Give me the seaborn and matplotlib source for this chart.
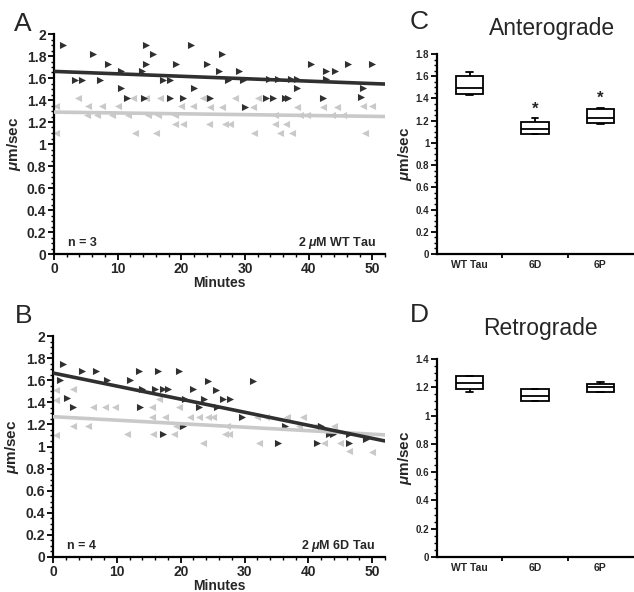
import numpy as np
import pandas as pd
import matplotlib
matplotlib.use("Agg")
import matplotlib.pyplot as plt
import seaborn as sns
from matplotlib.ticker import MultipleLocator, FixedLocator

# ---------------- data ----------------
# Panel A (2 uM WT Tau): anterograde (dark, right triangles)
a_ant_min = [1.4, 6.1, 8.5, 10.5, 3.3, 4.4, 7.2, 10.5, 11.4,
             14.4, 15.6, 14.4, 13.9, 19.1, 17.1, 18.2, 18.2, 20.2, 21.5, 22.0, 14.2,
             26.4, 24.0, 25.9, 29.0, 27.4, 29.7, 33.8, 35.2, 37.2, 38.1, 42.8, 38.1,
             24.5, 33.3, 34.4, 36.3, 36.8, 42.2, 30.0, 40.4, 42.7, 44.1, 46.2, 50.0,
             48.5, 48.3]
a_ant_vel = [1.90, 1.82, 1.73, 1.66, 1.58, 1.58, 1.58, 1.51, 1.42,
             1.90, 1.82, 1.73, 1.66, 1.73, 1.58, 1.58, 1.42, 1.42, 1.90, 1.51, 1.42,
             1.82, 1.73, 1.66, 1.66, 1.58, 1.58, 1.59, 1.59, 1.59, 1.59, 1.59, 1.51,
             1.42, 1.42, 1.42, 1.42, 1.42, 1.42, 1.34, 1.73, 1.66, 1.66, 1.73, 1.73,
             1.51, 1.43]
# Panel A: retrograde (light, left triangles)
a_ret_min = [3.8, 12.4, 14.5, 16.6, 5.4, 7.5, 10.0,
             5.2, 6.7, 9.1, 11.7, 14.8, 16.4, 19.0,
             0.3, 12.7, 16.0, 19.0, 20.3, 20.0, 21.9,
             23.4, 28.4, 32.0, 24.5, 26.4, 31.3, 38.1, 42.2, 44.4,
             24.3, 26.8, 27.6, 34.7, 36.4, 31.4, 35.5, 37.4,
             34.7, 38.6, 39.7, 43.6, 45.4, 48.5, 50.0, 48.8, 0.3]
a_ret_vel = [1.42, 1.42, 1.42, 1.42, 1.35, 1.35, 1.35,
             1.26, 1.26, 1.26, 1.26, 1.26, 1.26, 1.26,
             1.10, 1.10, 1.10, 1.18, 1.18, 1.35, 1.35,
             1.42, 1.42, 1.42, 1.34, 1.34, 1.34, 1.34, 1.34, 1.34,
             1.18, 1.18, 1.18, 1.18, 1.18, 1.10, 1.10, 1.10,
             1.26, 1.26, 1.26, 1.26, 1.26, 1.35, 1.35, 1.10, 1.35]

# Panel B (2 uM 6D Tau)
b_ant_min = [1.6, 4.5, 6.7, 1.1, 8.5, 12.0, 13.4, 16.5, 19.8, 2.2, 3.2,
             14.0, 16.0, 17.3, 18.0, 22.0, 13.7, 20.6, 20.3, 17.2, 22.8,
             24.3, 31.4, 25.6, 23.7, 26.7, 27.8, 35.3, 41.4, 46.3, 43.8, 43.2,
             36.4, 41.9, 46.3, 25.7, 29.6, 49.0]
b_ant_vel = [1.75, 1.68, 1.68, 1.60, 1.60, 1.60, 1.68, 1.68, 1.68, 1.44, 1.36,
             1.52, 1.52, 1.52, 1.52, 1.52, 1.36, 1.43, 1.19, 1.11, 1.36,
             1.59, 1.59, 1.51, 1.43, 1.43, 1.43, 1.03, 1.03, 1.03, 1.11, 1.11,
             1.19, 1.19, 1.11, 1.36, 1.27, 1.07]
b_ret_min = [3.1, 0.5, 0.5, 0.5, 6.2, 8.2, 9.7, 15.5, 19.7, 3.2, 5.5,
             11.6, 15.7, 18.9, 16.6, 15.5, 17.6, 21.5, 19.2, 22.8,
             24.2, 25.0, 32.0, 33.3, 36.7, 39.2, 27.0, 27.6, 23.5, 32.2,
             42.4, 45.0, 38.5, 41.1, 44.0, 27.3, 46.3, 50.0]
b_ret_vel = [1.52, 1.51, 1.42, 1.10, 1.36, 1.36, 1.36, 1.36, 1.36, 1.19, 1.19,
             1.11, 1.11, 1.11, 1.43, 1.27, 1.27, 1.27, 1.19, 1.27,
             1.27, 1.27, 1.27, 1.27, 1.27, 1.27, 1.11, 1.11, 1.03, 1.03,
             1.03, 1.03, 1.19, 1.19, 1.19, 1.19, 0.96, 0.95]

# Linear trend lines (value at 0 and 52 min)
trend_min = [0, 52]
a_ant_trend = [1.66, 1.545]
a_ret_trend = [1.29, 1.25]
b_ant_trend = [1.665, 1.05]
b_ret_trend = [1.27, 1.105]

# Panels C / D: per-condition mean velocities (box plots)
groups = ["WT Tau", "6D", "6P"]
c_wt = [1.43, 1.44, 1.495, 1.606, 1.64]
c_6d = [1.08, 1.08, 1.125, 1.19, 1.225]
c_6p = [1.17, 1.18, 1.225, 1.306, 1.31]
d_wt = [1.17, 1.19, 1.23, 1.277, 1.28]
d_6d = [1.106, 1.106, 1.14, 1.19, 1.19]
d_6p = [1.165, 1.17, 1.20, 1.22, 1.235]
sig_groups = ["6D", "6P"]
sig_y = [1.30, 1.40]

# ---------------- style ----------------
sns.set_theme(style="ticks")
plt.rcParams['font.family'] = ['Liberation Sans', 'DejaVu Sans']
plt.rcParams['mathtext.fontset'] = 'custom'
plt.rcParams['mathtext.it'] = 'Liberation Sans:italic:bold'
plt.rcParams['mathtext.rm'] = 'Liberation Sans:bold'
plt.rcParams['mathtext.bf'] = 'Liberation Sans:bold'

DARK = '#303030'
LIGHT = '#c9c9c9'
SPW = 1.6

fig = plt.figure(figsize=(6.34, 5.92), dpi=100)
W, H = 634, 592
axA = fig.add_axes([54 / W, 1 - 254 / H, (385 - 54) / W, (254 - 34) / H])
axB = fig.add_axes([53 / W, 1 - 557 / H, (385 - 53) / W, (557 - 336) / H])
axC = fig.add_axes([437 / W, 1 - 254 / H, (633 - 437) / W, (254 - 54) / H])
axD = fig.add_axes([437 / W, 1 - 557 / H, (633 - 437) / W, (557 - 359) / H])


def style_axis(ax, tick_fs):
    sns.despine(ax=ax)
    for s in ("left", "bottom"):
        ax.spines[s].set_linewidth(SPW)
        ax.spines[s].set_color("black")
    ax.tick_params(which="major", length=4, width=1.3, color="black",
                   labelsize=tick_fs, pad=1.5)
    ax.tick_params(which="minor", length=2, width=1.0, color="black")
    for lab in ax.get_xticklabels() + ax.get_yticklabels():
        lab.set_fontweight("bold")


def scatter_panel(ax, ant_x, ant_y, ret_x, ret_y, ant_tr, ret_tr, ntext, cond):
    sns.scatterplot(x=ret_x, y=ret_y, marker="<", color=LIGHT, s=26,
                    linewidth=0, ax=ax, zorder=2)
    sns.scatterplot(x=ant_x, y=ant_y, marker=">", color=DARK, s=26,
                    linewidth=0, ax=ax, zorder=3)
    sns.lineplot(x=trend_min, y=ret_tr, color=LIGHT, lw=2.6, ax=ax, zorder=4)
    sns.lineplot(x=trend_min, y=ant_tr, color=DARK, lw=2.6, ax=ax, zorder=5)
    ax.set_xlim(0, 52)
    ax.set_ylim(0, 2)
    ax.xaxis.set_major_locator(MultipleLocator(10))
    ax.xaxis.set_minor_locator(MultipleLocator(2))
    ax.yaxis.set_minor_locator(MultipleLocator(0.05))
    ax.set_yticks(np.round(np.arange(0, 2.01, 0.2), 1))
    ax.set_yticklabels(["0", "0.2", "0.4", "0.6", "0.8", "1", "1.2", "1.4",
                        "1.6", "1.8", "2"])
    ax.set_xlabel("Minutes", fontsize=10, fontweight="bold", labelpad=0)
    ax.set_ylabel(r"$\mu$m/sec", fontsize=11, fontweight="bold")
    ax.yaxis.set_label_coords(-0.095, 0.5)
    style_axis(ax, 10)
    ax.text(2.2, 0.1, ntext, fontsize=9, fontweight="bold", va="center",
            ha="left")
    ax.text(50.6, 0.1, cond, fontsize=9, fontweight="bold", va="center",
            ha="right")


scatter_panel(axA, a_ant_min, a_ant_vel, a_ret_min, a_ret_vel,
              a_ant_trend, a_ret_trend, "n = 3", r"2 $\mu$M WT Tau")
scatter_panel(axB, b_ant_min, b_ant_vel, b_ret_min, b_ret_vel,
              b_ant_trend, b_ret_trend, "n = 4", r"2 $\mu$M 6D Tau")


def box_panel(ax, wt, d6, p6, ymax, yticks, ylabels):
    df = pd.DataFrame({
        "group": ["WT Tau"] * len(wt) + ["6D"] * len(d6) + ["6P"] * len(p6),
        "speed": wt + d6 + p6,
    })
    sns.boxplot(data=df, x="group", y="speed", order=groups, whis=(0, 100),
                width=0.42, color="white", linecolor="black", linewidth=1.3,
                fliersize=0, capwidths=0.1, ax=ax)
    ax.set_xlim(-0.5, 2.5)
    ax.set_ylim(0, ymax)
    ax.set_yticks(yticks)
    ax.set_yticklabels(ylabels)
    ax.yaxis.set_minor_locator(MultipleLocator(0.05))
    ax.xaxis.set_minor_locator(FixedLocator([0.5, 1.5]))
    ax.set_xlabel("")
    ax.set_ylabel(r"$\mu$m/sec", fontsize=11, fontweight="bold")
    ax.yaxis.set_label_coords(-0.115, 0.5)
    style_axis(ax, 7)
    ax.tick_params(axis="x", which="major", length=0, labelsize=7.5, pad=4)
    ax.tick_params(axis="x", which="minor", length=3, width=1.3)


box_panel(axC, c_wt, c_6d, c_6p, 1.8,
          [0, 0.2, 0.4, 0.6, 0.8, 1.0, 1.2, 1.4, 1.6, 1.8],
          ["0", "0.2", "0.4", "0.6", "0.8", "1", "1.2", "1.4", "1.6", "1.8"])
for g, yv in zip(sig_groups, sig_y):
    axC.text(groups.index(g), yv, "*", ha="center", va="center",
             fontsize=12, fontweight="bold")

box_panel(axD, d_wt, d_6d, d_6p, 1.4,
          [0, 0.2, 0.4, 0.6, 0.8, 1.0, 1.2, 1.4],
          ["0", "0.2", "0.4", "0.6", "0.8", "1", "1.2", "1.4"])

# panel letters and titles
for letter, x, y in [("A", 23, 24), ("B", 24, 316), ("C", 419, 22), ("D", 419, 315)]:
    fig.text(x / W, 1 - y / H, letter, fontsize=19, ha="center", va="center")
fig.text(552 / W, 1 - 29 / H, "Anterograde", fontsize=16.5, ha="center", va="center")
fig.text(540 / W, 1 - 328 / H, "Retrograde", fontsize=16.5, ha="center", va="center")

fig.savefig("out.png", dpi=100)
